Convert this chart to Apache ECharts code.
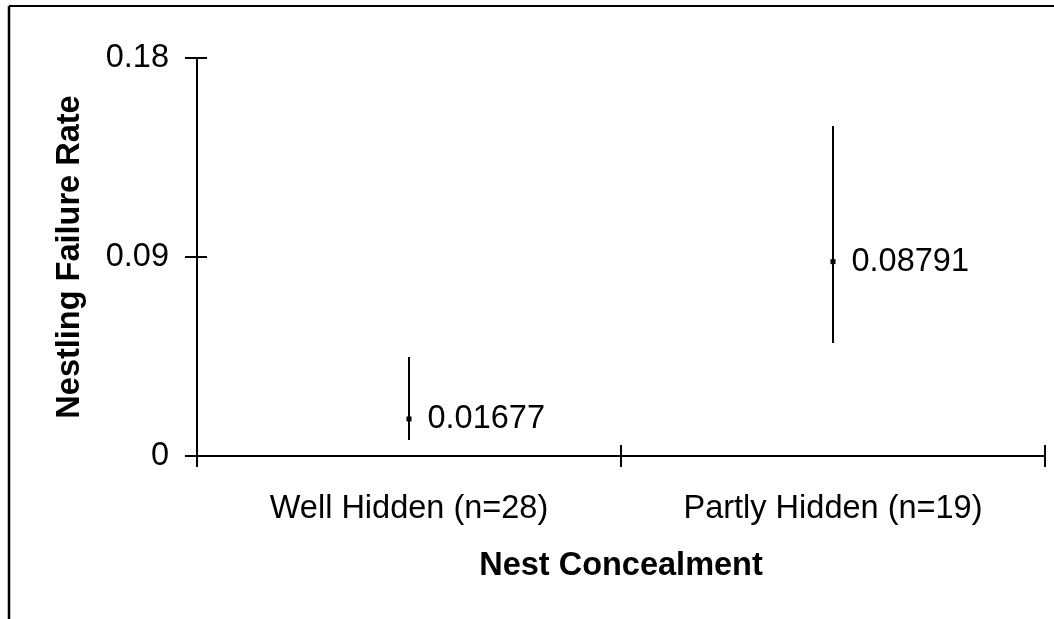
<!DOCTYPE html>
<html>
<head>
<meta charset="utf-8">
<script src="https://cdn.jsdelivr.net/npm/echarts@6/dist/echarts.min.js"></script>
<style>
html,body{margin:0;padding:0;background:#fff;}
#chart{width:1054px;height:619px;}
</style>
</head>
<body>
<div id="chart"></div>
<script>
const categories = ['Well Hidden (n=28)', 'Partly Hidden (n=19)'];
const means = [0.01677, 0.08791];
const lowerBounds = [0.0072, 0.0511];
const upperBounds = [0.0448, 0.1492];
const yTicks = [0, 0.09, 0.18];

const FONT = '"Liberation Sans", Arial, sans-serif';
const FS = 32.5;
const chart = echarts.init(document.getElementById('chart'), null, {renderer: 'canvas'});

const gridBox = {left: 197, right: 9, top: 58, bottom: 163};

const option = {
  animation: false,
  backgroundColor: '#ffffff',
  textStyle: {fontFamily: FONT},
  graphic: [
    {type: 'line', shape: {x1: 9, y1: 6, x2: 1054, y2: 6}, style: {stroke: '#000', lineWidth: 2}},
    {type: 'line', shape: {x1: 9, y1: 6, x2: 9, y2: 619}, style: {stroke: '#000', lineWidth: 2.5}}
  ],
  grid: gridBox,
  xAxis: [
    {
      type: 'category', data: categories, gridIndex: 0,
      boundaryGap: true,
      axisLine: {show: true, lineStyle: {color: '#000', width: 2}},
      axisTick: {show: true, inside: false, length: 11, alignWithLabel: false, lineStyle: {color: '#000', width: 2}},
      axisLabel: {show: true, color: '#000', fontFamily: FONT, fontSize: FS, margin: 37, interval: 0},
      splitLine: {show: false},
      name: 'Nest Concealment', nameLocation: 'middle', nameGap: 94,
      nameTextStyle: {color: '#000', fontFamily: FONT, fontSize: FS, fontWeight: 'bold'}
    },
    {
      type: 'category', data: categories, gridIndex: 0, position: 'bottom',
      boundaryGap: true,
      axisLine: {show: false},
      axisTick: {show: true, inside: true, length: 11, lineStyle: {color: '#000', width: 2}},
      axisLabel: {show: false},
      splitLine: {show: false}
    }
  ],
  yAxis: [
    {
      type: 'value', min: 0, max: 0.18, interval: 0.09,
      axisLine: {show: true, lineStyle: {color: '#000', width: 2}},
      axisTick: {show: true, inside: false, length: 12, lineStyle: {color: '#000', width: 2}},
      axisLabel: {show: true, color: '#000', fontFamily: FONT, fontSize: FS, margin: 28,
        formatter: function (v) {
          const t = yTicks.find(x => Math.abs(x - v) < 1e-9);
          return t === undefined ? '' : String(t);
        }},
      splitLine: {show: false},
      name: 'Nestling Failure Rate', nameLocation: 'middle', nameGap: 110,
      nameTextStyle: {color: '#000', fontFamily: FONT, fontSize: FS, fontWeight: 'bold'}
    },
    {
      type: 'value', min: 0, max: 0.18, interval: 0.09, position: 'left',
      axisLine: {show: false},
      axisTick: {show: true, inside: true, length: 10, lineStyle: {color: '#000', width: 2}},
      axisLabel: {show: false},
      splitLine: {show: false}
    }
  ],
  series: [
    {
      type: 'custom',
      xAxisIndex: 0, yAxisIndex: 0,
      data: categories.map((c, i) => [i, lowerBounds[i], upperBounds[i]]),
      renderItem: function (params, api) {
        const lo = api.coord([api.value(0), api.value(1)]);
        const hi = api.coord([api.value(0), api.value(2)]);
        return {
          type: 'line',
          shape: {x1: lo[0], y1: lo[1], x2: hi[0], y2: hi[1]},
          style: {stroke: '#000', lineWidth: 2}
        };
      },
      silent: true,
      z: 2
    },
    {
      type: 'scatter',
      xAxisIndex: 0, yAxisIndex: 0,
      symbol: 'rect', symbolSize: 5,
      itemStyle: {color: '#000', opacity: 1},
      data: categories.map((c, i) => [i, means[i]]),
      label: {
        show: true, position: 'right', distance: 16,
        color: '#000000', opacity: 1, textBorderWidth: 0, textShadowBlur: 0,
        fontFamily: FONT, fontSize: FS,
        formatter: function (p) { return String(means[p.dataIndex]); }
      },
      z: 3
    }
  ]
};
chart.setOption(option);
</script>
</body>
</html>
